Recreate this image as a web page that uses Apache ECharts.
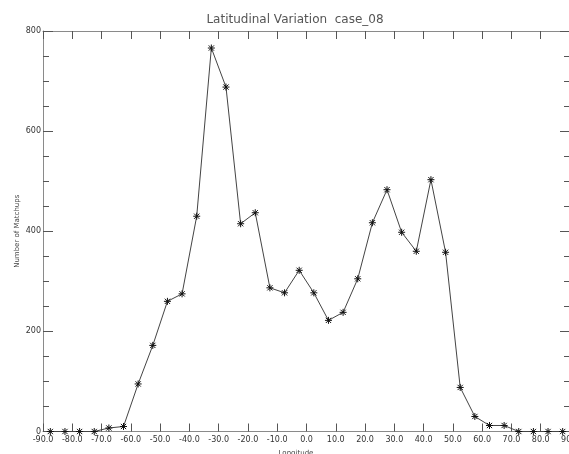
<!DOCTYPE html>
<html>
<head>
<meta charset="utf-8">
<style>
  html, body { margin: 0; padding: 0; background: #fff; }
  #chart { width: 569px; height: 454px; }
</style>
<script src="https://cdn.jsdelivr.net/npm/echarts@6/dist/echarts.min.js"></script>
</head>
<body>
<div id="chart"></div>
<script>
// Bin centres (degrees) and match-up counts per 5-degree bin
const longitudes = [
  -87.5, -82.5, -77.5, -72.5, -67.5, -62.5, -57.5, -52.5, -47.5, -42.5,
  -37.5, -32.5, -27.5, -22.5, -17.5, -12.5, -7.5, -2.5, 2.5, 7.5,
  12.5, 17.5, 22.5, 27.5, 32.5, 37.5, 42.5, 47.5, 52.5, 57.5,
  62.5, 67.5, 72.5, 77.5, 82.5, 87.5
];
const matchups = [
  0, 0, 0, 0, 7, 10, 95, 172, 260, 275,
  430, 766, 688, 415, 437, 287, 277, 322, 277, 222,
  238, 305, 417, 483, 398, 360, 503, 358, 88, 30,
  12, 12, 0, 0, 0, 0
];

const titleText = 'Latitudinal Variation  case_08';
const xTitle = 'Longitude';
const yTitle = 'Number of Matchups';

const axisGrey = '#8a8a8a';
const tickGrey = '#555';
const labelFont = { fontFamily: 'DejaVu Sans', fontSize: 8, color: '#333' };

// IDL-style asterisk marker (plus + cross), stroked only
const asterisk = 'path://M0,-4L0,4M-4,0L4,0M-3,-3L3,3M-3,3L3,-3';

const chart = echarts.init(document.getElementById('chart'), null, { renderer: 'canvas' });

chart.setOption({
  animation: false,
  backgroundColor: '#fff',
  title: [
    {
      text: titleText,
      left: 290, top: 9, textAlign: 'center',
      textStyle: { fontFamily: 'DejaVu Sans', fontSize: 12, fontWeight: 'normal', color: '#555' }
    },
    {
      text: xTitle,
      left: 291, top: 445, textAlign: 'center',
      textStyle: { fontFamily: 'DejaVu Sans', fontSize: 7, fontWeight: 'normal', color: '#444' }
    }
  ],
  grid: { left: 43, right: -1, top: 31, bottom: 22.5, containLabel: false, outerBoundsMode: 'none' },
  xAxis: [
    {
      type: 'value', position: 'bottom', min: -90, max: 90, interval: 10,
      axisLine: { show: true, onZero: false, lineStyle: { color: axisGrey, width: 1 } },
      axisTick: { show: true, inside: true, length: 8, lineStyle: { color: tickGrey } },
      axisLabel: Object.assign({ margin: 4, formatter: v => v.toFixed(1), showMaxLabel: true, showMinLabel: true }, labelFont),
      splitLine: { show: false }
    },
    {
      type: 'value', position: 'top', min: -90, max: 90, interval: 10,
      axisLine: { show: true, onZero: false, lineStyle: { color: axisGrey, width: 1 } },
      axisTick: { show: true, inside: true, length: 8, lineStyle: { color: tickGrey } },
      axisLabel: { show: false },
      splitLine: { show: false }
    }
  ],
  yAxis: [
    {
      type: 'value', position: 'left', min: 0, max: 800, interval: 200,
      name: yTitle, nameLocation: 'middle', nameGap: 22, nameRotate: 90,
      nameMoveOverlap: false,
      nameTextStyle: { fontFamily: 'DejaVu Sans', fontSize: 7, color: '#444' },
      axisLine: { show: true, onZero: false, lineStyle: { color: axisGrey, width: 1 } },
      axisTick: { show: true, inside: true, length: 10, lineStyle: { color: tickGrey } },
      minorTick: { show: true, splitNumber: 4, length: 6, lineStyle: { color: tickGrey } },
      axisLabel: Object.assign({ margin: 2 }, labelFont),
      splitLine: { show: false }
    },
    {
      type: 'value', position: 'right', min: 0, max: 800, interval: 200,
      axisLine: { show: true, onZero: false, lineStyle: { color: axisGrey, width: 1 } },
      axisTick: { show: true, inside: true, length: 10, lineStyle: { color: tickGrey } },
      minorTick: { show: true, splitNumber: 4, length: 6, lineStyle: { color: tickGrey } },
      axisLabel: { show: false },
      splitLine: { show: false }
    }
  ],
  series: [
    {
      type: 'line',
      xAxisIndex: 0, yAxisIndex: 0,
      data: longitudes.map((x, i) => [x, matchups[i]]),
      symbol: asterisk,
      symbolSize: 7,
      showAllSymbol: true,
      clip: false,
      lineStyle: { color: '#444', width: 1 },
      itemStyle: { color: 'rgba(0,0,0,0)', borderColor: '#111', borderWidth: 1 },
      emphasis: { disabled: true }
    }
  ]
});
</script>
</body>
</html>
